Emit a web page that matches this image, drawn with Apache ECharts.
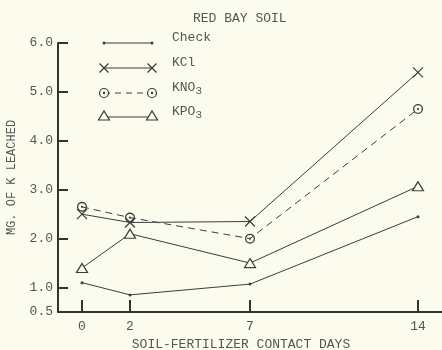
<!DOCTYPE html>
<html>
<head>
<meta charset="utf-8">
<script src="https://cdn.jsdelivr.net/npm/echarts@6/dist/echarts.min.js"></script>
<style>
  html, body { margin: 0; padding: 0; background: #fcfcee; }
  #chart { width: 442px; height: 350px; }
</style>
</head>
<body>
<div id="chart"></div>
<script>
// Potassium leached from Red Bay soil vs. soil-fertilizer contact time
const days = [0, 2, 7, 14];
const check = [1.1, 0.85, 1.07, 2.45];
const kcl = [2.5, 2.33, 2.35, 5.4];
const kno3 = [2.65, 2.43, 2.0, 4.65];
const kpo3 = [1.4, 2.1, 1.5, 3.07];
const yTicks = [0.5, 1, 2, 3, 4, 5, 6];
const yTickMarks = [1, 2, 3, 4, 5, 6];

const INK = '#3c3c3c';
const TEXT = '#555';
const BG = '#fcfcee';
const FONT = 'Liberation Mono';

const pairs = vals => days.map((d, i) => [d, vals[i]]);

// marker shapes
const crossPath = 'path://M0,0 L10,10 M10,0 L0,10';
const ringDotPath = 'path://M10,5 A5,5 0 1,1 0,5 A5,5 0 1,1 10,5 Z M8.7,5 A3.7,3.7 0 1,0 1.3,5 A3.7,3.7 0 1,0 8.7,5 Z M6.1,5 A1.1,1.1 0 1,1 3.9,5 A1.1,1.1 0 1,1 6.1,5 Z';

const chart = echarts.init(document.getElementById('chart'));

// hand-drawn style legend: line with a marker at each end
const legendRows = [
  { y: 43, label: 'Check', kind: 'dot' },
  { y: 68, label: 'KCl', kind: 'cross' },
  { y: 93, label: '{a|KNO}{s|3}', kind: 'ring', dashed: true },
  { y: 117, label: '{a|KPO}{s|3}', kind: 'tri' }
];
const lx0 = 104, lx1 = 152;
function marker(kind, x, y) {
  if (kind === 'dot') return [{ type: 'circle', shape: { cx: x, cy: y, r: 1.5 }, style: { fill: INK } }];
  if (kind === 'cross') return [
    { type: 'line', shape: { x1: x - 4.5, y1: y - 4.5, x2: x + 4.5, y2: y + 4.5 }, style: { stroke: INK, lineWidth: 1.2 } },
    { type: 'line', shape: { x1: x + 4.5, y1: y - 4.5, x2: x - 4.5, y2: y + 4.5 }, style: { stroke: INK, lineWidth: 1.2 } }
  ];
  if (kind === 'ring') return [
    { type: 'circle', shape: { cx: x, cy: y, r: 4.5 }, style: { fill: BG, stroke: INK, lineWidth: 1.2 } },
    { type: 'circle', shape: { cx: x, cy: y, r: 1.2 }, style: { fill: INK } }
  ];
  return [{ type: 'polygon', shape: { points: [[x - 5.5, y + 3], [x + 5.5, y + 3], [x, y - 6]] }, style: { fill: BG, stroke: INK, lineWidth: 1.2 } }];
}
const legendEls = [];
legendRows.forEach(r => {
  legendEls.push({ type: 'line', shape: { x1: lx0, y1: r.y, x2: lx1, y2: r.y },
    style: { stroke: INK, lineWidth: 1, lineDash: r.dashed ? [6, 5] : null } });
  legendEls.push(...marker(r.kind, lx0, r.y), ...marker(r.kind, lx1, r.y));
  legendEls.push({ type: 'text', x: 172, y: r.y - 5,
    style: { text: r.label, fill: TEXT, font: '13px ' + FONT, verticalAlign: 'middle',
      rich: { a: { fontFamily: FONT, fontSize: 13, fill: TEXT, color: TEXT },
              s: { fontFamily: FONT, fontSize: 11, color: TEXT, padding: [7, 0, 0, 0] } } } });
});

function seriesOf(name, vals, symbol, size, dashed) {
  return {
    name, type: 'line', data: pairs(vals),
    symbol, symbolSize: size, showSymbol: true,
    lineStyle: { color: INK, width: 1, type: dashed ? [7, 5] : 'solid' },
    itemStyle: { color: INK, borderColor: INK, borderWidth: 0 },
    z: 3, animation: false
  };
}

chart.setOption({
  backgroundColor: BG,
  animation: false,
  title: {
    text: 'RED BAY SOIL', left: 188, top: 7,
    textStyle: { fontFamily: FONT, fontSize: 13, fontWeight: 'normal', color: TEXT }
  },
  grid: { left: 58, right: 0, top: 43, bottom: 38, outerBoundsMode: 'none', containLabel: false },
  xAxis: {
    type: 'value', min: -1, max: 15,
    name: 'SOIL-FERTILIZER CONTACT DAYS', nameLocation: 'middle', nameGap: 24,
    nameTextStyle: { fontFamily: FONT, fontSize: 13, color: TEXT, padding: [0, 18, 0, 0] },
    axisLine: { onZero: false, lineStyle: { color: '#333', width: 2 } },
    axisTick: { show: true, inside: true, length: 12, customValues: days, lineStyle: { color: '#333', width: 2 } },
    axisLabel: { customValues: days, margin: 8, fontFamily: FONT, fontSize: 13, color: TEXT },
    splitLine: { show: false }
  },
  yAxis: {
    type: 'value', min: 0.5, max: 6,
    name: 'MG. OF K LEACHED', nameLocation: 'middle', nameGap: 40, nameRotate: 90,
    nameTextStyle: { fontFamily: FONT, fontSize: 12, color: TEXT },
    axisLine: { show: true, onZero: false, lineStyle: { color: '#333', width: 2 } },
    axisTick: { show: true, inside: true, length: 10, customValues: yTickMarks, lineStyle: { color: '#333', width: 2 } },
    axisLabel: { customValues: yTicks, margin: 5, fontFamily: FONT, fontSize: 13, color: TEXT,
      formatter: v => v.toFixed(1) },
    splitLine: { show: false }
  },
  graphic: legendEls,
  series: [
    seriesOf('Check', check, 'circle', 3, false),
    Object.assign(seriesOf('KCl', kcl, crossPath, 10, false),
      { itemStyle: { color: 'none', borderColor: INK, borderWidth: 1.2 } }),
    seriesOf('KNO3', kno3, ringDotPath, 10, true),
    Object.assign(seriesOf('KPO3', kpo3, 'triangle', [11, 9], false),
      { itemStyle: { color: BG, borderColor: INK, borderWidth: 1.2 } })
  ]
});
</script>
</body>
</html>
